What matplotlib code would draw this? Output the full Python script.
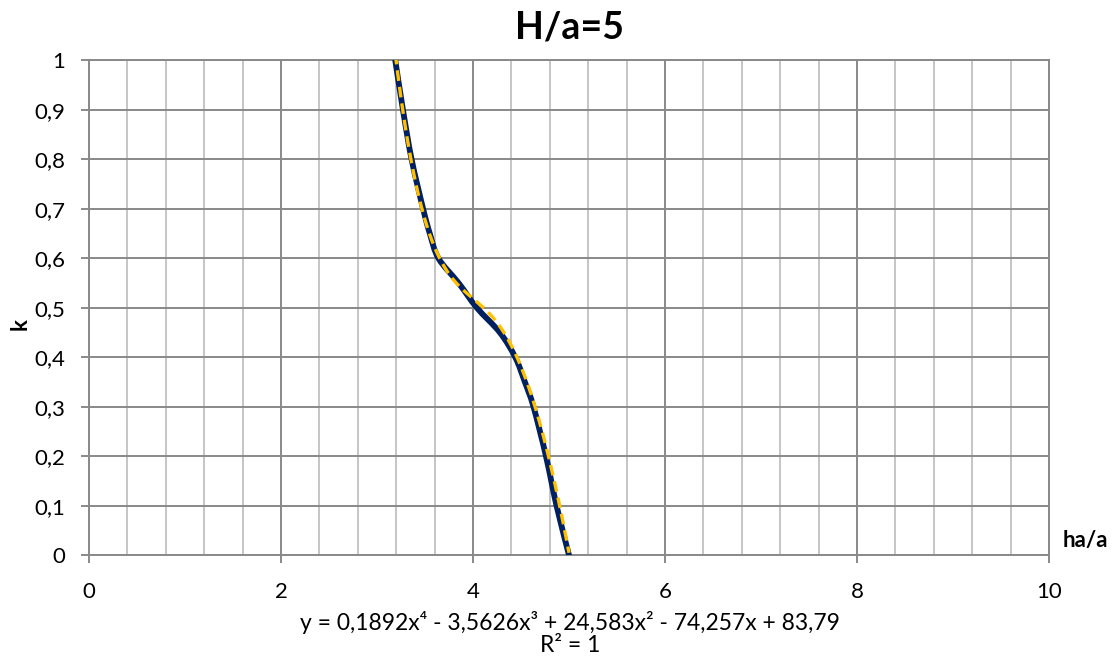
import numpy as np
import matplotlib.pyplot as plt
from matplotlib.path import Path
from matplotlib.patches import PathPatch
from matplotlib.ticker import MultipleLocator, FuncFormatter

plt.rcParams['font.family'] = ['Lato', 'DejaVu Sans']

# data: k vs ha/a
ha_a = [3.19, 3.27, 3.36, 3.48, 3.55, 3.64, 3.85, 4.04, 4.28, 4.44, 4.54, 4.63, 4.76, 4.87, 5.0]
k = [1.0, 0.9, 0.8, 0.7, 0.65, 0.6, 0.55, 0.5, 0.45, 0.4, 0.35, 0.3, 0.2, 0.1, 0.0]

# trendline coefficients as printed on the chart (x^4 ... x^0)
trend_coefs = [0.1892, -3.5626, 24.583, -74.257, 83.79]
eq_text = "y = 0,1892x⁴ - 3,5626x³ + 24,583x² - 74,257x + 83,79"
r2_text = "R² = 1"

title = "H/a=5"
xlabel = "ha/a"
ylabel = "k"

major_c = "#898989"
minor_c = "#c0c0c0"


def smooth_path(xs, ys):
    # excel-style smoothed line: cubic bezier segments through the points
    pts = np.column_stack([xs, ys])
    verts = [pts[0]]
    codes = [Path.MOVETO]
    n = len(pts)
    for i in range(n - 1):
        p0 = pts[max(i - 1, 0)]
        p1 = pts[i]
        p2 = pts[i + 1]
        p3 = pts[min(i + 2, n - 1)]
        verts += [p1 + (p2 - p0) / 6, p2 - (p3 - p1) / 6, p2]
        codes += [Path.CURVE4] * 3
    return Path(verts, codes)


fig = plt.figure(figsize=(11.14, 6.57), dpi=100)
ax = fig.add_axes([0.0799, 0.1548, 0.8618, 0.7534])

ax.set_xlim(0, 10)
ax.set_ylim(0, 1)
ax.xaxis.set_major_locator(MultipleLocator(2))
ax.xaxis.set_minor_locator(MultipleLocator(0.4))
ax.yaxis.set_major_locator(MultipleLocator(0.1))

comma = FuncFormatter(lambda v, p: f"{v:g}".replace(".", ","))
ax.xaxis.set_major_formatter(comma)
ax.yaxis.set_major_formatter(comma)

ax.grid(True, which="major", color=major_c, linewidth=1.4)
ax.grid(True, which="minor", axis="x", color=minor_c, linewidth=1.3)
ax.set_axisbelow(True)
for s in ax.spines.values():
    s.set_color(major_c)
    s.set_linewidth(1.4)

ax.tick_params(axis="both", which="major", length=6, width=1.4, color=major_c,
               labelsize=16, labelcolor="#000000")
ax.tick_params(axis="y", pad=11)
ax.tick_params(axis="x", pad=13)
ax.tick_params(which="minor", length=0)

ax.add_patch(PathPatch(smooth_path(ha_a, k), facecolor="none", edgecolor="#002060",
                       linewidth=4.2, capstyle="round", zorder=3))

xt = np.linspace(min(ha_a), max(ha_a), 200)
ax.plot(xt, np.polyval(trend_coefs, xt), color="#FFC000", linewidth=2.4,
        dashes=(3.2, 1.8), zorder=4)

fig.text(0.5115, 0.958, title, ha="center", va="center", fontsize=27, fontweight="bold")
fig.text(0.974, 0.177, xlabel, ha="center", va="center", fontsize=16, fontweight="bold")
fig.text(0.018, 0.507, ylabel, ha="center", va="center", fontsize=16, fontweight="bold",
         rotation=90)
fig.text(0.5115, 0.053, eq_text, ha="center", va="center", fontsize=16.5)
fig.text(0.5115, 0.018, r2_text, ha="center", va="center", fontsize=16.5)

fig.savefig("out.png", dpi=100)
